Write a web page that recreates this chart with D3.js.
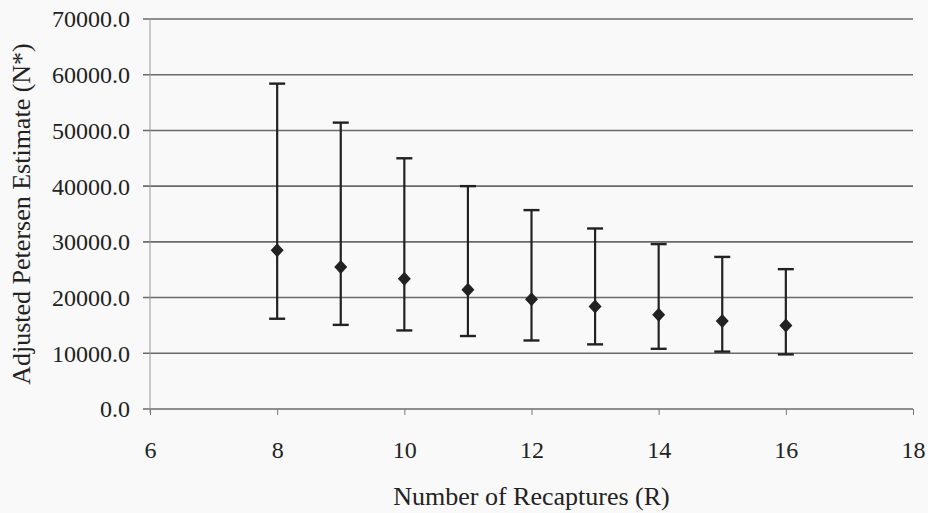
<!DOCTYPE html>
<html><head><meta charset="utf-8">
<script src="https://cdn.jsdelivr.net/npm/d3@7"></script>
<style>
html,body{margin:0;padding:0;background:#f9f9f9;}
svg{display:block;}
text{font-family:"Liberation Serif","Times New Roman",serif;fill:#222;}
</style></head>
<body>
<svg id="chart" width="928" height="513"></svg>
<script>
// Data
const recaptures = [8, 9, 10, 11, 12, 13, 14, 15, 16];
const estimate   = [28500, 25500, 23400, 21400, 19700, 18400, 16900, 15800, 15000];
const upper      = [58400, 51400, 45000, 40000, 35700, 32400, 29600, 27300, 25100];
const lower      = [16200, 15100, 14100, 13100, 12300, 11600, 10800, 10300, 9800];
const xTicks = [6, 8, 10, 12, 14, 16, 18];
const yTicks = [0, 10000, 20000, 30000, 40000, 50000, 60000, 70000];

const svg = d3.select("#chart");
const m = {left:150, right:15, top:19, bottom:104};
const W = 928, H = 513;
const x = d3.scaleLinear().domain([6, 18]).range([m.left, W - m.right]);
const y = d3.scaleLinear().domain([0, 70000]).range([H - m.bottom, m.top]);

// gridlines
svg.append("g").selectAll("line").data(yTicks).join("line")
  .attr("x1", m.left - 7).attr("x2", x(18))
  .attr("y1", d => y(d)).attr("y2", d => y(d))
  .attr("stroke", "#6a6a6a").attr("stroke-width", 1.6);

// y axis line
svg.append("line").attr("x1", m.left).attr("x2", m.left)
  .attr("y1", y(70000)).attr("y2", y(0) + 4)
  .attr("stroke", "#999").attr("stroke-width", 1);

// y tick labels
svg.append("g").selectAll("text").data(yTicks).join("text")
  .attr("x", m.left - 20).attr("y", d => y(d)).attr("dy", "0.35em")
  .attr("text-anchor", "end").attr("font-size", 24)
  .text(d => d3.format(".1f")(d));

// x axis ticks
const xAxis = d3.axisBottom(x).tickValues(xTicks).tickSize(6).tickFormat(d => d);
const gx = svg.append("g").attr("transform", `translate(0,${y(0)})`).call(xAxis);
gx.select(".domain").remove();
gx.selectAll(".tick line").attr("stroke", "#777").attr("stroke-width", 1);
gx.selectAll(".tick text").attr("font-size", 24).attr("font-family", "Liberation Serif, serif")
  .attr("fill", "#222").attr("y", 32);

// error bars
const g = svg.append("g");
const cap = 8;
recaptures.forEach((r, i) => {
  const cx = x(r);
  g.append("line").attr("x1", cx).attr("x2", cx).attr("y1", y(upper[i])).attr("y2", y(lower[i]))
    .attr("stroke", "#222").attr("stroke-width", 2.2);
  [upper[i], lower[i]].forEach(v => {
    g.append("line").attr("x1", cx - cap).attr("x2", cx + cap).attr("y1", y(v)).attr("y2", y(v))
      .attr("stroke", "#222").attr("stroke-width", 2.4);
  });
});
// diamonds
g.selectAll("path.pt").data(recaptures).join("path").attr("class", "pt")
  .attr("transform", (d, i) => `translate(${x(d)},${y(estimate[i])})`)
  .attr("d", "M0,-7L6.5,0L0,7L-6.5,0Z").attr("fill", "#222");

// axis titles
svg.append("text").attr("x", (m.left + x(18)) / 2).attr("y", 505)
  .attr("text-anchor", "middle").attr("font-size", 26).text("Number of Recaptures (R)");
svg.append("text").attr("transform", `translate(30,${(y(0) + y(70000)) / 2}) rotate(-90)`)
  .attr("text-anchor", "middle").attr("font-size", 26).text("Adjusted Petersen Estimate (N*)");
</script>
</body></html>
